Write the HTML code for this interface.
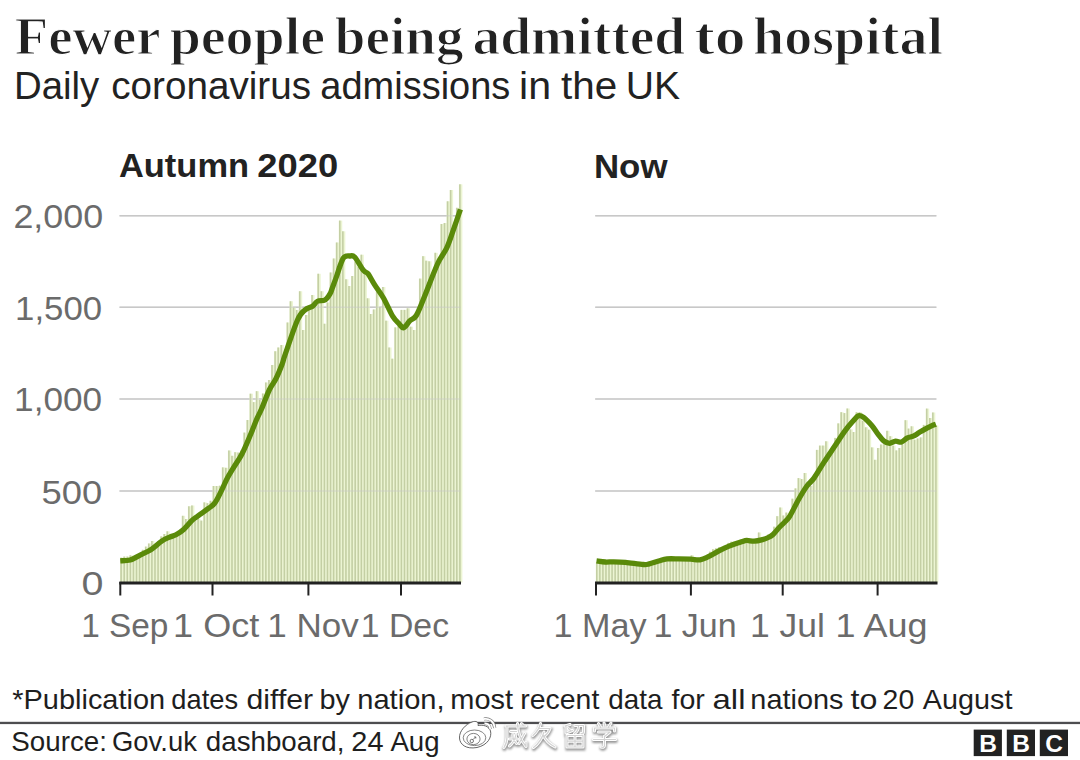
<!DOCTYPE html>
<html><head><meta charset="utf-8"><style>
html,body{margin:0;padding:0;background:#fff;}
svg{display:block;}
text{font-family:"Liberation Sans",sans-serif;}
.title{font-family:"Liberation Serif",serif;font-weight:bold;font-size:53px;fill:#222;stroke:#fff;stroke-width:1.2px;}
.sub{font-size:38px;fill:#222;}
.ptitle{font-size:34px;font-weight:bold;fill:#222;}
.ax{font-size:33px;fill:#6b6b6b;}
.note{font-size:27.6px;fill:#1e1e1e;}
.bar rect{fill:#c4cfa4;}
.band rect{fill:#ecf5d3;}
.grid line{stroke:#c8c8c8;stroke-width:1.6;}
.axis line{stroke:#222;}
.line{fill:none;stroke:#5a8a0a;stroke-width:5.30;stroke-linejoin:round;stroke-linecap:butt;}
.bbc rect{fill:#222;}
.bbc text{font-size:24.5px;font-weight:bold;fill:#fff;text-anchor:middle;}
</style></head><body>
<svg width="1080" height="760" viewBox="0 0 1080 760">
<rect width="1080" height="760" fill="#fff"/>
<g class="grid"><line x1="119.5" x2="460.5" y1="215.75" y2="215.75"/><line x1="119.5" x2="460.5" y1="307.25" y2="307.25"/><line x1="119.5" x2="460.5" y1="399.00" y2="399.00"/><line x1="119.5" x2="460.5" y1="491.00" y2="491.00"/><line x1="595.2" x2="936.4" y1="215.75" y2="215.75"/><line x1="595.2" x2="936.4" y1="307.25" y2="307.25"/><line x1="595.2" x2="936.4" y1="399.00" y2="399.00"/><line x1="595.2" x2="936.4" y1="491.00" y2="491.00"/></g>
<g class="band"><rect x="120.10" y="557.70" width="3.48" height="24.80"/><rect x="123.18" y="556.60" width="3.48" height="25.90"/><rect x="126.26" y="556.60" width="3.48" height="25.90"/><rect x="129.34" y="555.30" width="3.48" height="27.20"/><rect x="132.42" y="558.50" width="3.48" height="24.00"/><rect x="135.50" y="556.90" width="3.48" height="25.60"/><rect x="138.58" y="553.70" width="3.48" height="28.80"/><rect x="141.66" y="549.80" width="3.48" height="32.70"/><rect x="144.74" y="546.60" width="3.48" height="35.90"/><rect x="147.82" y="543.50" width="3.48" height="39.00"/><rect x="150.90" y="541.00" width="3.48" height="41.50"/><rect x="153.98" y="545.80" width="3.48" height="36.70"/><rect x="157.06" y="541.00" width="3.48" height="41.50"/><rect x="160.14" y="536.40" width="3.48" height="46.10"/><rect x="163.22" y="534.00" width="3.48" height="48.50"/><rect x="166.30" y="531.30" width="3.48" height="51.20"/><rect x="169.38" y="536.40" width="3.48" height="46.10"/><rect x="172.46" y="536.40" width="3.48" height="46.10"/><rect x="175.54" y="534.80" width="3.48" height="47.70"/><rect x="178.62" y="533.20" width="3.48" height="49.30"/><rect x="181.70" y="515.80" width="3.48" height="66.70"/><rect x="184.78" y="519.00" width="3.48" height="63.50"/><rect x="187.86" y="506.30" width="3.48" height="76.20"/><rect x="190.94" y="505.50" width="3.48" height="77.00"/><rect x="194.02" y="520.60" width="3.48" height="61.90"/><rect x="197.10" y="519.00" width="3.48" height="63.50"/><rect x="200.18" y="520.60" width="3.48" height="61.90"/><rect x="203.26" y="502.40" width="3.48" height="80.10"/><rect x="206.34" y="503.20" width="3.48" height="79.30"/><rect x="209.42" y="500.80" width="3.48" height="81.70"/><rect x="212.50" y="486.00" width="3.48" height="96.50"/><rect x="215.58" y="486.00" width="3.48" height="96.50"/><rect x="218.66" y="485.70" width="3.48" height="96.80"/><rect x="221.74" y="467.40" width="3.48" height="115.10"/><rect x="224.82" y="467.80" width="3.48" height="114.70"/><rect x="227.90" y="450.50" width="3.48" height="132.00"/><rect x="230.98" y="455.80" width="3.48" height="126.70"/><rect x="234.06" y="452.20" width="3.48" height="130.30"/><rect x="237.14" y="452.60" width="3.48" height="129.90"/><rect x="240.22" y="450.50" width="3.48" height="132.00"/><rect x="243.30" y="432.60" width="3.48" height="149.90"/><rect x="246.38" y="420.00" width="3.48" height="162.50"/><rect x="249.46" y="393.70" width="3.48" height="188.80"/><rect x="252.54" y="402.10" width="3.48" height="180.40"/><rect x="255.62" y="391.20" width="3.48" height="191.30"/><rect x="258.70" y="400.00" width="3.48" height="182.50"/><rect x="261.78" y="393.50" width="3.48" height="189.00"/><rect x="264.86" y="382.50" width="3.48" height="200.00"/><rect x="267.94" y="380.00" width="3.48" height="202.50"/><rect x="271.02" y="365.00" width="3.48" height="217.50"/><rect x="274.10" y="351.25" width="3.48" height="231.25"/><rect x="277.18" y="347.50" width="3.48" height="235.00"/><rect x="280.26" y="345.00" width="3.48" height="237.50"/><rect x="283.34" y="355.00" width="3.48" height="227.50"/><rect x="286.42" y="322.50" width="3.48" height="260.00"/><rect x="289.50" y="301.25" width="3.48" height="281.25"/><rect x="292.58" y="307.50" width="3.48" height="275.00"/><rect x="295.66" y="310.00" width="3.48" height="272.50"/><rect x="298.74" y="291.25" width="3.48" height="291.25"/><rect x="301.82" y="330.00" width="3.48" height="252.50"/><rect x="304.90" y="315.00" width="3.48" height="267.50"/><rect x="307.98" y="310.00" width="3.48" height="272.50"/><rect x="311.06" y="295.00" width="3.48" height="287.50"/><rect x="314.14" y="302.50" width="3.48" height="280.00"/><rect x="317.22" y="273.75" width="3.48" height="308.75"/><rect x="320.30" y="291.25" width="3.48" height="291.25"/><rect x="323.38" y="323.75" width="3.48" height="258.75"/><rect x="326.46" y="302.50" width="3.48" height="280.00"/><rect x="329.54" y="272.50" width="3.48" height="310.00"/><rect x="332.62" y="258.50" width="3.48" height="324.00"/><rect x="335.70" y="242.50" width="3.48" height="340.00"/><rect x="338.78" y="220.60" width="3.48" height="361.90"/><rect x="341.86" y="231.30" width="3.48" height="351.20"/><rect x="344.94" y="279.30" width="3.48" height="303.20"/><rect x="348.02" y="286.00" width="3.48" height="296.50"/><rect x="351.10" y="276.00" width="3.48" height="306.50"/><rect x="354.18" y="261.50" width="3.48" height="321.00"/><rect x="357.26" y="267.00" width="3.48" height="315.50"/><rect x="360.34" y="254.70" width="3.48" height="327.80"/><rect x="363.42" y="273.70" width="3.48" height="308.80"/><rect x="366.50" y="298.30" width="3.48" height="284.20"/><rect x="369.58" y="314.00" width="3.48" height="268.50"/><rect x="372.66" y="309.50" width="3.48" height="273.00"/><rect x="375.74" y="291.60" width="3.48" height="290.90"/><rect x="378.82" y="307.00" width="3.48" height="275.50"/><rect x="381.90" y="287.00" width="3.48" height="295.50"/><rect x="384.98" y="320.70" width="3.48" height="261.80"/><rect x="388.06" y="347.50" width="3.48" height="235.00"/><rect x="391.14" y="358.70" width="3.48" height="223.80"/><rect x="394.22" y="327.40" width="3.48" height="255.10"/><rect x="397.30" y="325.00" width="3.48" height="257.50"/><rect x="400.38" y="309.90" width="3.48" height="272.60"/><rect x="403.46" y="309.90" width="3.48" height="272.60"/><rect x="406.54" y="308.30" width="3.48" height="274.20"/><rect x="409.62" y="326.70" width="3.48" height="255.80"/><rect x="412.70" y="330.00" width="3.48" height="252.50"/><rect x="415.78" y="313.00" width="3.48" height="269.50"/><rect x="418.86" y="278.60" width="3.48" height="303.90"/><rect x="421.94" y="256.20" width="3.48" height="326.30"/><rect x="425.02" y="260.70" width="3.48" height="321.80"/><rect x="428.10" y="261.30" width="3.48" height="321.20"/><rect x="431.18" y="277.50" width="3.48" height="305.00"/><rect x="434.26" y="252.80" width="3.48" height="329.70"/><rect x="437.34" y="259.50" width="3.48" height="323.00"/><rect x="440.42" y="224.00" width="3.48" height="358.50"/><rect x="443.50" y="223.00" width="3.48" height="359.50"/><rect x="446.58" y="201.30" width="3.48" height="381.20"/><rect x="449.66" y="190.00" width="3.48" height="392.50"/><rect x="452.74" y="224.00" width="3.48" height="358.50"/><rect x="455.82" y="207.80" width="3.48" height="374.70"/><rect x="458.90" y="184.30" width="3.48" height="398.20"/><rect x="595.80" y="562.34" width="3.46" height="20.16"/><rect x="598.85" y="562.75" width="3.46" height="19.75"/><rect x="601.91" y="563.16" width="3.46" height="19.34"/><rect x="604.96" y="563.49" width="3.46" height="19.01"/><rect x="608.02" y="563.41" width="3.46" height="19.09"/><rect x="611.07" y="563.34" width="3.46" height="19.16"/><rect x="614.13" y="563.37" width="3.46" height="19.13"/><rect x="617.18" y="563.53" width="3.46" height="18.97"/><rect x="620.24" y="563.68" width="3.46" height="18.82"/><rect x="623.29" y="563.84" width="3.46" height="18.66"/><rect x="626.35" y="564.12" width="3.46" height="18.38"/><rect x="629.40" y="564.48" width="3.46" height="18.02"/><rect x="632.46" y="564.84" width="3.46" height="17.66"/><rect x="635.51" y="565.20" width="3.46" height="17.30"/><rect x="638.57" y="565.56" width="3.46" height="16.94"/><rect x="641.62" y="565.92" width="3.46" height="16.58"/><rect x="644.68" y="565.76" width="3.46" height="16.74"/><rect x="647.73" y="565.45" width="3.46" height="17.05"/><rect x="650.79" y="564.61" width="3.46" height="17.89"/><rect x="653.84" y="563.68" width="3.46" height="18.82"/><rect x="656.90" y="562.74" width="3.46" height="19.76"/><rect x="659.95" y="561.93" width="3.46" height="20.57"/><rect x="663.01" y="561.16" width="3.46" height="21.34"/><rect x="666.06" y="560.40" width="3.46" height="22.10"/><rect x="669.12" y="560.40" width="3.46" height="22.10"/><rect x="672.17" y="560.40" width="3.46" height="22.10"/><rect x="675.23" y="560.40" width="3.46" height="22.10"/><rect x="678.28" y="560.41" width="3.46" height="22.09"/><rect x="681.34" y="560.49" width="3.46" height="22.01"/><rect x="684.39" y="560.57" width="3.46" height="21.93"/><rect x="687.45" y="560.64" width="3.46" height="21.86"/><rect x="690.50" y="555.30" width="3.46" height="27.20"/><rect x="693.56" y="560.95" width="3.46" height="21.55"/><rect x="696.62" y="561.15" width="3.46" height="21.35"/><rect x="699.67" y="561.05" width="3.46" height="21.45"/><rect x="702.72" y="559.91" width="3.46" height="22.59"/><rect x="705.78" y="558.77" width="3.46" height="23.73"/><rect x="708.83" y="551.70" width="3.46" height="30.80"/><rect x="711.89" y="549.20" width="3.46" height="33.30"/><rect x="714.94" y="548.30" width="3.46" height="34.20"/><rect x="718.00" y="547.10" width="3.46" height="35.40"/><rect x="721.05" y="550.89" width="3.46" height="31.61"/><rect x="724.11" y="549.36" width="3.46" height="33.14"/><rect x="727.16" y="542.90" width="3.46" height="39.60"/><rect x="730.22" y="541.70" width="3.46" height="40.80"/><rect x="733.27" y="541.70" width="3.46" height="40.80"/><rect x="736.33" y="544.71" width="3.46" height="37.79"/><rect x="739.38" y="539.60" width="3.46" height="42.90"/><rect x="742.44" y="542.75" width="3.46" height="39.75"/><rect x="745.50" y="541.95" width="3.46" height="40.55"/><rect x="748.55" y="542.20" width="3.46" height="40.30"/><rect x="751.61" y="542.53" width="3.46" height="39.97"/><rect x="754.66" y="542.42" width="3.46" height="40.08"/><rect x="757.71" y="532.50" width="3.46" height="50.00"/><rect x="760.77" y="541.24" width="3.46" height="41.26"/><rect x="763.82" y="540.26" width="3.46" height="42.24"/><rect x="766.88" y="534.60" width="3.46" height="47.90"/><rect x="769.93" y="537.26" width="3.46" height="45.24"/><rect x="772.99" y="526.70" width="3.46" height="55.80"/><rect x="776.04" y="516.20" width="3.46" height="66.30"/><rect x="779.10" y="507.50" width="3.46" height="75.00"/><rect x="782.15" y="515.50" width="3.46" height="67.00"/><rect x="785.21" y="512.60" width="3.46" height="69.90"/><rect x="788.26" y="518.17" width="3.46" height="64.33"/><rect x="791.32" y="498.70" width="3.46" height="83.80"/><rect x="794.38" y="488.40" width="3.46" height="94.10"/><rect x="797.43" y="478.10" width="3.46" height="104.40"/><rect x="800.48" y="479.00" width="3.46" height="103.50"/><rect x="803.54" y="473.00" width="3.46" height="109.50"/><rect x="806.60" y="482.40" width="3.46" height="100.10"/><rect x="809.65" y="486.00" width="3.46" height="96.50"/><rect x="812.70" y="479.93" width="3.46" height="102.57"/><rect x="815.76" y="449.90" width="3.46" height="132.60"/><rect x="818.81" y="445.60" width="3.46" height="136.90"/><rect x="821.87" y="445.60" width="3.46" height="136.90"/><rect x="824.92" y="441.30" width="3.46" height="141.20"/><rect x="827.98" y="455.00" width="3.46" height="127.50"/><rect x="831.03" y="450.00" width="3.46" height="132.50"/><rect x="834.09" y="437.90" width="3.46" height="144.60"/><rect x="837.14" y="423.40" width="3.46" height="159.10"/><rect x="840.20" y="412.20" width="3.46" height="170.30"/><rect x="843.25" y="413.10" width="3.46" height="169.40"/><rect x="846.31" y="408.50" width="3.46" height="174.00"/><rect x="849.37" y="429.40" width="3.46" height="153.10"/><rect x="852.42" y="432.00" width="3.46" height="150.50"/><rect x="855.47" y="412.20" width="3.46" height="170.30"/><rect x="858.53" y="412.20" width="3.46" height="170.30"/><rect x="861.59" y="420.80" width="3.46" height="161.70"/><rect x="864.64" y="427.30" width="3.46" height="155.20"/><rect x="867.69" y="429.70" width="3.46" height="152.80"/><rect x="870.75" y="447.40" width="3.46" height="135.10"/><rect x="873.80" y="459.80" width="3.46" height="122.70"/><rect x="876.86" y="448.00" width="3.46" height="134.50"/><rect x="879.91" y="444.50" width="3.46" height="138.00"/><rect x="882.97" y="443.30" width="3.46" height="139.20"/><rect x="886.02" y="430.80" width="3.46" height="151.70"/><rect x="889.08" y="436.20" width="3.46" height="146.30"/><rect x="892.13" y="445.60" width="3.46" height="136.90"/><rect x="895.19" y="450.40" width="3.46" height="132.10"/><rect x="898.24" y="448.00" width="3.46" height="134.50"/><rect x="901.30" y="444.50" width="3.46" height="138.00"/><rect x="904.36" y="420.20" width="3.46" height="162.30"/><rect x="907.41" y="428.60" width="3.46" height="153.90"/><rect x="910.46" y="426.30" width="3.46" height="156.20"/><rect x="913.52" y="439.70" width="3.46" height="142.80"/><rect x="916.58" y="438.50" width="3.46" height="144.00"/><rect x="919.63" y="437.40" width="3.46" height="145.10"/><rect x="922.68" y="424.90" width="3.46" height="157.60"/><rect x="925.74" y="408.60" width="3.46" height="173.90"/><rect x="928.79" y="418.00" width="3.46" height="164.50"/><rect x="931.85" y="412.50" width="3.46" height="170.00"/><rect x="934.90" y="425.50" width="3.46" height="157.00"/></g>
<g class="bar"><rect x="120.30" y="557.70" width="1.60" height="24.80"/><rect x="123.38" y="556.60" width="1.60" height="25.90"/><rect x="126.46" y="556.60" width="1.60" height="25.90"/><rect x="129.54" y="555.30" width="1.60" height="27.20"/><rect x="132.62" y="558.50" width="1.60" height="24.00"/><rect x="135.70" y="556.90" width="1.60" height="25.60"/><rect x="138.78" y="553.70" width="1.60" height="28.80"/><rect x="141.86" y="549.80" width="1.60" height="32.70"/><rect x="144.94" y="546.60" width="1.60" height="35.90"/><rect x="148.02" y="543.50" width="1.60" height="39.00"/><rect x="151.10" y="541.00" width="1.60" height="41.50"/><rect x="154.18" y="545.80" width="1.60" height="36.70"/><rect x="157.26" y="541.00" width="1.60" height="41.50"/><rect x="160.34" y="536.40" width="1.60" height="46.10"/><rect x="163.42" y="534.00" width="1.60" height="48.50"/><rect x="166.50" y="531.30" width="1.60" height="51.20"/><rect x="169.58" y="536.40" width="1.60" height="46.10"/><rect x="172.66" y="536.40" width="1.60" height="46.10"/><rect x="175.74" y="534.80" width="1.60" height="47.70"/><rect x="178.82" y="533.20" width="1.60" height="49.30"/><rect x="181.90" y="515.80" width="1.60" height="66.70"/><rect x="184.98" y="519.00" width="1.60" height="63.50"/><rect x="188.06" y="506.30" width="1.60" height="76.20"/><rect x="191.14" y="505.50" width="1.60" height="77.00"/><rect x="194.22" y="520.60" width="1.60" height="61.90"/><rect x="197.30" y="519.00" width="1.60" height="63.50"/><rect x="200.38" y="520.60" width="1.60" height="61.90"/><rect x="203.46" y="502.40" width="1.60" height="80.10"/><rect x="206.54" y="503.20" width="1.60" height="79.30"/><rect x="209.62" y="500.80" width="1.60" height="81.70"/><rect x="212.70" y="486.00" width="1.60" height="96.50"/><rect x="215.78" y="486.00" width="1.60" height="96.50"/><rect x="218.86" y="485.70" width="1.60" height="96.80"/><rect x="221.94" y="467.40" width="1.60" height="115.10"/><rect x="225.02" y="467.80" width="1.60" height="114.70"/><rect x="228.10" y="450.50" width="1.60" height="132.00"/><rect x="231.18" y="455.80" width="1.60" height="126.70"/><rect x="234.26" y="452.20" width="1.60" height="130.30"/><rect x="237.34" y="452.60" width="1.60" height="129.90"/><rect x="240.42" y="450.50" width="1.60" height="132.00"/><rect x="243.50" y="432.60" width="1.60" height="149.90"/><rect x="246.58" y="420.00" width="1.60" height="162.50"/><rect x="249.66" y="393.70" width="1.60" height="188.80"/><rect x="252.74" y="402.10" width="1.60" height="180.40"/><rect x="255.82" y="391.20" width="1.60" height="191.30"/><rect x="258.90" y="400.00" width="1.60" height="182.50"/><rect x="261.98" y="393.50" width="1.60" height="189.00"/><rect x="265.06" y="382.50" width="1.60" height="200.00"/><rect x="268.14" y="380.00" width="1.60" height="202.50"/><rect x="271.22" y="365.00" width="1.60" height="217.50"/><rect x="274.30" y="351.25" width="1.60" height="231.25"/><rect x="277.38" y="347.50" width="1.60" height="235.00"/><rect x="280.46" y="345.00" width="1.60" height="237.50"/><rect x="283.54" y="355.00" width="1.60" height="227.50"/><rect x="286.62" y="322.50" width="1.60" height="260.00"/><rect x="289.70" y="301.25" width="1.60" height="281.25"/><rect x="292.78" y="307.50" width="1.60" height="275.00"/><rect x="295.86" y="310.00" width="1.60" height="272.50"/><rect x="298.94" y="291.25" width="1.60" height="291.25"/><rect x="302.02" y="330.00" width="1.60" height="252.50"/><rect x="305.10" y="315.00" width="1.60" height="267.50"/><rect x="308.18" y="310.00" width="1.60" height="272.50"/><rect x="311.26" y="295.00" width="1.60" height="287.50"/><rect x="314.34" y="302.50" width="1.60" height="280.00"/><rect x="317.42" y="273.75" width="1.60" height="308.75"/><rect x="320.50" y="291.25" width="1.60" height="291.25"/><rect x="323.58" y="323.75" width="1.60" height="258.75"/><rect x="326.66" y="302.50" width="1.60" height="280.00"/><rect x="329.74" y="272.50" width="1.60" height="310.00"/><rect x="332.82" y="258.50" width="1.60" height="324.00"/><rect x="335.90" y="242.50" width="1.60" height="340.00"/><rect x="338.98" y="220.60" width="1.60" height="361.90"/><rect x="342.06" y="231.30" width="1.60" height="351.20"/><rect x="345.14" y="279.30" width="1.60" height="303.20"/><rect x="348.22" y="286.00" width="1.60" height="296.50"/><rect x="351.30" y="276.00" width="1.60" height="306.50"/><rect x="354.38" y="261.50" width="1.60" height="321.00"/><rect x="357.46" y="267.00" width="1.60" height="315.50"/><rect x="360.54" y="254.70" width="1.60" height="327.80"/><rect x="363.62" y="273.70" width="1.60" height="308.80"/><rect x="366.70" y="298.30" width="1.60" height="284.20"/><rect x="369.78" y="314.00" width="1.60" height="268.50"/><rect x="372.86" y="309.50" width="1.60" height="273.00"/><rect x="375.94" y="291.60" width="1.60" height="290.90"/><rect x="379.02" y="307.00" width="1.60" height="275.50"/><rect x="382.10" y="287.00" width="1.60" height="295.50"/><rect x="385.18" y="320.70" width="1.60" height="261.80"/><rect x="388.26" y="347.50" width="1.60" height="235.00"/><rect x="391.34" y="358.70" width="1.60" height="223.80"/><rect x="394.42" y="327.40" width="1.60" height="255.10"/><rect x="397.50" y="325.00" width="1.60" height="257.50"/><rect x="400.58" y="309.90" width="1.60" height="272.60"/><rect x="403.66" y="309.90" width="1.60" height="272.60"/><rect x="406.74" y="308.30" width="1.60" height="274.20"/><rect x="409.82" y="326.70" width="1.60" height="255.80"/><rect x="412.90" y="330.00" width="1.60" height="252.50"/><rect x="415.98" y="313.00" width="1.60" height="269.50"/><rect x="419.06" y="278.60" width="1.60" height="303.90"/><rect x="422.14" y="256.20" width="1.60" height="326.30"/><rect x="425.22" y="260.70" width="1.60" height="321.80"/><rect x="428.30" y="261.30" width="1.60" height="321.20"/><rect x="431.38" y="277.50" width="1.60" height="305.00"/><rect x="434.46" y="252.80" width="1.60" height="329.70"/><rect x="437.54" y="259.50" width="1.60" height="323.00"/><rect x="440.62" y="224.00" width="1.60" height="358.50"/><rect x="443.70" y="223.00" width="1.60" height="359.50"/><rect x="446.78" y="201.30" width="1.60" height="381.20"/><rect x="449.86" y="190.00" width="1.60" height="392.50"/><rect x="452.94" y="224.00" width="1.60" height="358.50"/><rect x="456.02" y="207.80" width="1.60" height="374.70"/><rect x="459.10" y="184.30" width="1.60" height="398.20"/><rect x="596.00" y="562.34" width="1.60" height="20.16"/><rect x="599.05" y="562.75" width="1.60" height="19.75"/><rect x="602.11" y="563.16" width="1.60" height="19.34"/><rect x="605.16" y="563.49" width="1.60" height="19.01"/><rect x="608.22" y="563.41" width="1.60" height="19.09"/><rect x="611.27" y="563.34" width="1.60" height="19.16"/><rect x="614.33" y="563.37" width="1.60" height="19.13"/><rect x="617.38" y="563.53" width="1.60" height="18.97"/><rect x="620.44" y="563.68" width="1.60" height="18.82"/><rect x="623.50" y="563.84" width="1.60" height="18.66"/><rect x="626.55" y="564.12" width="1.60" height="18.38"/><rect x="629.61" y="564.48" width="1.60" height="18.02"/><rect x="632.66" y="564.84" width="1.60" height="17.66"/><rect x="635.72" y="565.20" width="1.60" height="17.30"/><rect x="638.77" y="565.56" width="1.60" height="16.94"/><rect x="641.83" y="565.92" width="1.60" height="16.58"/><rect x="644.88" y="565.76" width="1.60" height="16.74"/><rect x="647.93" y="565.45" width="1.60" height="17.05"/><rect x="650.99" y="564.61" width="1.60" height="17.89"/><rect x="654.04" y="563.68" width="1.60" height="18.82"/><rect x="657.10" y="562.74" width="1.60" height="19.76"/><rect x="660.15" y="561.93" width="1.60" height="20.57"/><rect x="663.21" y="561.16" width="1.60" height="21.34"/><rect x="666.26" y="560.40" width="1.60" height="22.10"/><rect x="669.32" y="560.40" width="1.60" height="22.10"/><rect x="672.38" y="560.40" width="1.60" height="22.10"/><rect x="675.43" y="560.40" width="1.60" height="22.10"/><rect x="678.49" y="560.41" width="1.60" height="22.09"/><rect x="681.54" y="560.49" width="1.60" height="22.01"/><rect x="684.60" y="560.57" width="1.60" height="21.93"/><rect x="687.65" y="560.64" width="1.60" height="21.86"/><rect x="690.71" y="555.30" width="1.60" height="27.20"/><rect x="693.76" y="560.95" width="1.60" height="21.55"/><rect x="696.82" y="561.15" width="1.60" height="21.35"/><rect x="699.87" y="561.05" width="1.60" height="21.45"/><rect x="702.92" y="559.91" width="1.60" height="22.59"/><rect x="705.98" y="558.77" width="1.60" height="23.73"/><rect x="709.03" y="551.70" width="1.60" height="30.80"/><rect x="712.09" y="549.20" width="1.60" height="33.30"/><rect x="715.14" y="548.30" width="1.60" height="34.20"/><rect x="718.20" y="547.10" width="1.60" height="35.40"/><rect x="721.25" y="550.89" width="1.60" height="31.61"/><rect x="724.31" y="549.36" width="1.60" height="33.14"/><rect x="727.37" y="542.90" width="1.60" height="39.60"/><rect x="730.42" y="541.70" width="1.60" height="40.80"/><rect x="733.48" y="541.70" width="1.60" height="40.80"/><rect x="736.53" y="544.71" width="1.60" height="37.79"/><rect x="739.59" y="539.60" width="1.60" height="42.90"/><rect x="742.64" y="542.75" width="1.60" height="39.75"/><rect x="745.70" y="541.95" width="1.60" height="40.55"/><rect x="748.75" y="542.20" width="1.60" height="40.30"/><rect x="751.81" y="542.53" width="1.60" height="39.97"/><rect x="754.86" y="542.42" width="1.60" height="40.08"/><rect x="757.91" y="532.50" width="1.60" height="50.00"/><rect x="760.97" y="541.24" width="1.60" height="41.26"/><rect x="764.02" y="540.26" width="1.60" height="42.24"/><rect x="767.08" y="534.60" width="1.60" height="47.90"/><rect x="770.13" y="537.26" width="1.60" height="45.24"/><rect x="773.19" y="526.70" width="1.60" height="55.80"/><rect x="776.25" y="516.20" width="1.60" height="66.30"/><rect x="779.30" y="507.50" width="1.60" height="75.00"/><rect x="782.36" y="515.50" width="1.60" height="67.00"/><rect x="785.41" y="512.60" width="1.60" height="69.90"/><rect x="788.47" y="518.17" width="1.60" height="64.33"/><rect x="791.52" y="498.70" width="1.60" height="83.80"/><rect x="794.58" y="488.40" width="1.60" height="94.10"/><rect x="797.63" y="478.10" width="1.60" height="104.40"/><rect x="800.68" y="479.00" width="1.60" height="103.50"/><rect x="803.74" y="473.00" width="1.60" height="109.50"/><rect x="806.80" y="482.40" width="1.60" height="100.10"/><rect x="809.85" y="486.00" width="1.60" height="96.50"/><rect x="812.90" y="479.93" width="1.60" height="102.57"/><rect x="815.96" y="449.90" width="1.60" height="132.60"/><rect x="819.01" y="445.60" width="1.60" height="136.90"/><rect x="822.07" y="445.60" width="1.60" height="136.90"/><rect x="825.12" y="441.30" width="1.60" height="141.20"/><rect x="828.18" y="455.00" width="1.60" height="127.50"/><rect x="831.24" y="450.00" width="1.60" height="132.50"/><rect x="834.29" y="437.90" width="1.60" height="144.60"/><rect x="837.35" y="423.40" width="1.60" height="159.10"/><rect x="840.40" y="412.20" width="1.60" height="170.30"/><rect x="843.46" y="413.10" width="1.60" height="169.40"/><rect x="846.51" y="408.50" width="1.60" height="174.00"/><rect x="849.57" y="429.40" width="1.60" height="153.10"/><rect x="852.62" y="432.00" width="1.60" height="150.50"/><rect x="855.67" y="412.20" width="1.60" height="170.30"/><rect x="858.73" y="412.20" width="1.60" height="170.30"/><rect x="861.79" y="420.80" width="1.60" height="161.70"/><rect x="864.84" y="427.30" width="1.60" height="155.20"/><rect x="867.89" y="429.70" width="1.60" height="152.80"/><rect x="870.95" y="447.40" width="1.60" height="135.10"/><rect x="874.00" y="459.80" width="1.60" height="122.70"/><rect x="877.06" y="448.00" width="1.60" height="134.50"/><rect x="880.12" y="444.50" width="1.60" height="138.00"/><rect x="883.17" y="443.30" width="1.60" height="139.20"/><rect x="886.23" y="430.80" width="1.60" height="151.70"/><rect x="889.28" y="436.20" width="1.60" height="146.30"/><rect x="892.34" y="445.60" width="1.60" height="136.90"/><rect x="895.39" y="450.40" width="1.60" height="132.10"/><rect x="898.44" y="448.00" width="1.60" height="134.50"/><rect x="901.50" y="444.50" width="1.60" height="138.00"/><rect x="904.56" y="420.20" width="1.60" height="162.30"/><rect x="907.61" y="428.60" width="1.60" height="153.90"/><rect x="910.66" y="426.30" width="1.60" height="156.20"/><rect x="913.72" y="439.70" width="1.60" height="142.80"/><rect x="916.78" y="438.50" width="1.60" height="144.00"/><rect x="919.83" y="437.40" width="1.60" height="145.10"/><rect x="922.88" y="424.90" width="1.60" height="157.60"/><rect x="925.94" y="408.60" width="1.60" height="173.90"/><rect x="929.00" y="418.00" width="1.60" height="164.50"/><rect x="932.05" y="412.50" width="1.60" height="170.00"/><rect x="935.11" y="425.50" width="1.60" height="157.00"/></g>
<g class="grid" opacity="0.45"><line x1="119.5" x2="460.5" y1="215.75" y2="215.75"/><line x1="119.5" x2="460.5" y1="307.25" y2="307.25"/><line x1="119.5" x2="460.5" y1="399.00" y2="399.00"/><line x1="119.5" x2="460.5" y1="491.00" y2="491.00"/><line x1="595.2" x2="936.4" y1="215.75" y2="215.75"/><line x1="595.2" x2="936.4" y1="307.25" y2="307.25"/><line x1="595.2" x2="936.4" y1="399.00" y2="399.00"/><line x1="595.2" x2="936.4" y1="491.00" y2="491.00"/></g>
<path class="line" d="M120.30 560.80 C121.95 560.67 126.97 560.92 130.20 560.00 C133.43 559.08 136.27 557.00 139.70 555.30 C143.13 553.60 147.12 552.17 150.80 549.80 C154.48 547.43 158.65 543.22 161.80 541.10 C164.95 538.98 167.33 538.15 169.70 537.10 C172.07 536.05 173.63 536.12 176.00 534.80 C178.37 533.48 181.27 531.57 183.90 529.20 C186.53 526.83 189.43 522.83 191.80 520.60 C194.17 518.37 195.33 517.83 198.10 515.80 C200.87 513.77 205.63 510.50 208.40 508.40 C211.17 506.30 212.60 506.00 214.70 503.20 C216.80 500.40 218.88 495.82 221.00 491.60 C223.12 487.38 225.28 481.93 227.40 477.90 C229.52 473.87 231.25 471.43 233.70 467.40 C236.15 463.37 239.30 459.15 242.10 453.70 C244.90 448.25 248.05 440.48 250.50 434.70 C252.95 428.92 254.97 423.28 256.80 419.00 C258.63 414.72 259.38 413.92 261.50 409.00 C263.62 404.08 267.12 394.50 269.50 389.50 C271.88 384.50 273.70 383.22 275.80 379.00 C277.90 374.78 280.57 368.20 282.10 364.20 C283.63 360.20 282.43 362.37 285.00 355.00 C287.57 347.63 294.17 327.50 297.50 320.00 C300.83 312.50 302.50 312.29 305.00 310.00 C307.50 307.71 310.42 307.71 312.50 306.25 C314.58 304.79 315.42 302.29 317.50 301.25 C319.58 300.21 322.92 301.23 325.00 300.00 C327.08 298.77 328.75 295.98 330.00 293.90 C331.25 291.82 331.38 290.48 332.50 287.50 C333.62 284.52 335.45 279.58 336.70 276.00 C337.95 272.42 338.88 268.98 340.00 266.00 C341.12 263.02 342.27 259.77 343.40 258.10 C344.53 256.43 345.78 256.35 346.80 256.00 C347.82 255.65 348.20 255.83 349.50 256.00 C350.80 256.17 352.27 254.60 354.60 257.00 C356.93 259.40 361.27 267.62 363.50 270.40 C365.73 273.18 366.13 271.28 368.00 273.70 C369.87 276.12 372.10 280.80 374.70 284.90 C377.30 289.00 380.62 293.08 383.60 298.30 C386.58 303.52 389.98 311.92 392.60 316.20 C395.22 320.48 397.45 322.07 399.30 324.00 C401.15 325.93 401.92 328.35 403.70 327.80 C405.48 327.25 407.90 322.75 410.00 320.70 C412.10 318.65 413.95 319.35 416.30 315.50 C418.65 311.65 420.57 306.18 424.10 297.60 C427.63 289.02 433.77 272.20 437.50 264.00 C441.23 255.80 443.88 254.00 446.50 248.40 C449.12 242.80 450.88 236.90 453.20 230.40 C455.52 223.90 459.20 212.90 460.40 209.40"/>
<path class="line" d="M596.50 560.80 C597.98 561.00 602.53 561.83 605.40 562.00 C608.27 562.17 610.35 561.73 613.70 561.80 C617.05 561.87 620.57 561.95 625.50 562.40 C630.43 562.85 639.35 564.25 643.30 564.50 C647.25 564.75 646.63 564.48 649.20 563.90 C651.77 563.32 655.73 561.83 658.70 561.00 C661.67 560.17 663.65 559.25 667.00 558.90 C670.35 558.55 674.85 558.85 678.80 558.90 C682.75 558.95 687.17 559.05 690.70 559.20 C694.23 559.35 697.07 560.22 700.00 559.80 C702.93 559.38 705.52 557.98 708.30 556.70 C711.08 555.42 713.92 553.57 716.70 552.10 C719.48 550.63 722.23 549.15 725.00 547.90 C727.77 546.65 730.52 545.63 733.30 544.60 C736.08 543.57 739.47 542.40 741.70 541.70 C743.93 541.00 744.62 540.48 746.70 540.40 C748.78 540.32 751.57 541.33 754.20 541.20 C756.83 541.07 760.15 540.22 762.50 539.60 C764.85 538.98 766.50 538.40 768.30 537.50 C770.10 536.60 771.48 535.87 773.30 534.20 C775.12 532.53 777.25 529.58 779.20 527.50 C781.15 525.42 783.20 523.65 785.00 521.70 C786.80 519.75 787.73 519.50 790.00 515.80 C792.27 512.10 795.75 504.50 798.60 499.50 C801.45 494.50 804.53 489.37 807.10 485.80 C809.67 482.23 811.15 482.08 814.00 478.10 C816.85 474.12 820.78 467.17 824.20 461.90 C827.62 456.63 831.07 451.63 834.50 446.50 C837.93 441.37 841.67 435.38 844.80 431.10 C847.93 426.82 851.03 423.37 853.30 420.80 C855.57 418.23 856.68 416.27 858.40 415.70 C860.12 415.13 861.37 415.77 863.60 417.40 C865.83 419.03 869.43 422.77 871.80 425.50 C874.17 428.23 875.82 431.23 877.80 433.80 C879.78 436.37 881.73 439.32 883.70 440.90 C885.67 442.48 887.63 443.27 889.60 443.30 C891.57 443.33 893.53 441.30 895.50 441.10 C897.47 440.90 899.42 442.63 901.40 442.10 C903.38 441.57 905.42 438.88 907.40 437.90 C909.38 436.92 911.33 437.08 913.30 436.20 C915.27 435.32 917.23 433.78 919.20 432.60 C921.17 431.42 923.13 430.18 925.10 429.10 C927.07 428.02 929.20 426.90 931.00 426.10 C932.80 425.30 935.08 424.60 935.90 424.30"/>
<g class="axis">
<line x1="119.3" x2="461" y1="583" y2="583" style="stroke-width:3"/>
<line x1="595" x2="937.5" y1="583" y2="583" style="stroke-width:3"/>
</g>
<g class="axis" style="stroke-width:2"><line x1="120.3" x2="120.3" y1="582" y2="595.5"/><line x1="212.5" x2="212.5" y1="582" y2="595.5"/><line x1="308.4" x2="308.4" y1="582" y2="595.5"/><line x1="401.0" x2="401.0" y1="582" y2="595.5"/><line x1="596.0" x2="596.0" y1="582" y2="595.5"/><line x1="690.9" x2="690.9" y1="582" y2="595.5"/><line x1="782.7" x2="782.7" y1="582" y2="595.5"/><line x1="877.6" x2="877.6" y1="582" y2="595.5"/></g>
<text id="t1" class="title" x="14.83" y="53.80" textLength="145.64" lengthAdjust="spacingAndGlyphs">Fewer</text>
<text id="t2" class="title" x="169.66" y="53.80" textLength="155.39" lengthAdjust="spacingAndGlyphs">people</text>
<text id="t3" class="title" x="334.86" y="53.80" textLength="128.58" lengthAdjust="spacingAndGlyphs">being</text>
<text id="t4" class="title" x="472.45" y="53.80" textLength="212.68" lengthAdjust="spacingAndGlyphs">admitted</text>
<text id="t5" class="title" x="694.29" y="53.80" textLength="51.41" lengthAdjust="spacingAndGlyphs">to</text>
<text id="t6" class="title" x="753.14" y="53.80" textLength="189.91" lengthAdjust="spacingAndGlyphs">hospital</text>
<text id="s1" class="sub" x="13.97" y="98.60" textLength="85.33" lengthAdjust="spacingAndGlyphs">Daily</text>
<text id="s2" class="sub" x="111.27" y="98.60" textLength="199.74" lengthAdjust="spacingAndGlyphs">coronavirus</text>
<text id="s3" class="sub" x="320.36" y="98.60" textLength="189.96" lengthAdjust="spacingAndGlyphs">admissions</text>
<text id="s4" class="sub" x="519.12" y="98.60" textLength="32.02" lengthAdjust="spacingAndGlyphs">in</text>
<text id="s5" class="sub" x="561.07" y="98.60" textLength="56.19" lengthAdjust="spacingAndGlyphs">the</text>
<text id="s6" class="sub" x="625.74" y="98.60" textLength="54.35" lengthAdjust="spacingAndGlyphs">UK</text>
<text id="autumn" class="ptitle" x="118.98" y="176.70" textLength="130.07" lengthAdjust="spacingAndGlyphs">Autumn</text>
<text id="a2020" class="ptitle" x="257.37" y="176.70" textLength="80.88" lengthAdjust="spacingAndGlyphs">2020</text>
<text id="now" class="ptitle" x="593.94" y="177.50" textLength="73.55" lengthAdjust="spacingAndGlyphs">Now</text>
<text id="y2000" class="ax" x="13.42" y="228.30" textLength="89.75" lengthAdjust="spacingAndGlyphs">2,000</text>
<text id="y1500" class="ax" x="15.10" y="319.80" textLength="87.05" lengthAdjust="spacingAndGlyphs">1,500</text>
<text id="y1000" class="ax" x="14.09" y="411.40" textLength="88.08" lengthAdjust="spacingAndGlyphs">1,000</text>
<text id="y500" class="ax" x="41.47" y="503.60" textLength="60.71" lengthAdjust="spacingAndGlyphs">500</text>
<text id="y0" class="ax" x="81.47" y="595.20" textLength="21.95" lengthAdjust="spacingAndGlyphs">0</text>
<text id="xsep" class="ax" x="81.15" y="637.40" textLength="87.32" lengthAdjust="spacingAndGlyphs">1 Sep</text>
<text id="xoct" class="ax" x="173.11" y="637.40" textLength="86.20" lengthAdjust="spacingAndGlyphs">1 Oct</text>
<text id="xnov" class="ax" x="267.28" y="637.40" textLength="91.42" lengthAdjust="spacingAndGlyphs">1 Nov</text>
<text id="xdec" class="ax" x="360.79" y="637.40" textLength="88.26" lengthAdjust="spacingAndGlyphs">1 Dec</text>
<text id="xmay" class="ax" x="553.62" y="637.40" textLength="92.91" lengthAdjust="spacingAndGlyphs">1 May</text>
<text id="xjun" class="ax" x="653.53" y="637.40" textLength="83.17" lengthAdjust="spacingAndGlyphs">1 Jun</text>
<text id="xjul" class="ax" x="750.02" y="637.40" textLength="74.96" lengthAdjust="spacingAndGlyphs">1 Jul</text>
<text id="xaug" class="ax" x="835.54" y="637.40" textLength="91.99" lengthAdjust="spacingAndGlyphs">1 Aug</text>
<text id="n1" class="note" x="12.28" y="709.10" textLength="152.84" lengthAdjust="spacingAndGlyphs">*Publication</text>
<text id="n2" class="note" x="171.37" y="709.10" textLength="66.75" lengthAdjust="spacingAndGlyphs">dates</text>
<text id="n3" class="note" x="246.57" y="709.10" textLength="66.55" lengthAdjust="spacingAndGlyphs">differ</text>
<text id="n4" class="note" x="319.60" y="709.10" textLength="30.40" lengthAdjust="spacingAndGlyphs">by</text>
<text id="n5" class="note" x="357.20" y="709.10" textLength="87.42" lengthAdjust="spacingAndGlyphs">nation,</text>
<text id="n6" class="note" x="450.34" y="709.10" textLength="62.78" lengthAdjust="spacingAndGlyphs">most</text>
<text id="n7" class="note" x="520.34" y="709.10" textLength="78.96" lengthAdjust="spacingAndGlyphs">recent</text>
<text id="n8" class="note" x="608.27" y="709.10" textLength="54.13" lengthAdjust="spacingAndGlyphs">data</text>
<text id="n9" class="note" x="671.47" y="709.10" textLength="33.35" lengthAdjust="spacingAndGlyphs">for</text>
<text id="n10" class="note" x="712.54" y="709.10" textLength="32.91" lengthAdjust="spacingAndGlyphs">all</text>
<text id="n11" class="note" x="750.33" y="709.10" textLength="93.11" lengthAdjust="spacingAndGlyphs">nations</text>
<text id="n12" class="note" x="850.45" y="709.10" textLength="26.87" lengthAdjust="spacingAndGlyphs">to</text>
<text id="n13" class="note" x="882.63" y="709.10" textLength="31.61" lengthAdjust="spacingAndGlyphs">20</text>
<text id="n14" class="note" x="922.89" y="709.10" textLength="89.52" lengthAdjust="spacingAndGlyphs">August</text>
<text id="r1" class="note" x="11.25" y="751.10" textLength="95.67" lengthAdjust="spacingAndGlyphs">Source:</text>
<text id="r2" class="note" x="112.06" y="751.10" textLength="84.83" lengthAdjust="spacingAndGlyphs">Gov.uk</text>
<text id="r3" class="note" x="205.87" y="751.10" textLength="138.59" lengthAdjust="spacingAndGlyphs">dashboard,</text>
<text id="r4" class="note" x="351.27" y="751.10" textLength="32.27" lengthAdjust="spacingAndGlyphs">24</text>
<text id="r5" class="note" x="390.46" y="751.10" textLength="49.11" lengthAdjust="spacingAndGlyphs">Aug</text>
<rect x="0" y="721.8" width="1080" height="2.3" fill="#4d4d50"/>
<defs><filter id="wmb" x="-10%" y="-10%" width="120%" height="140%"><feGaussianBlur stdDeviation="1.1"/></filter></defs><g fill="none" stroke="#8c8c8c" stroke-width="4" stroke-linecap="round" opacity="0.9" filter="url(#wmb)" transform="translate(0.4 1.4)"><path transform="translate(502.5 722.0)" d="M3.5 4 H23 M4.5 4 V15 Q4.5 21 1.5 25.5 M8 9.5 H14 M10.5 11.5 Q9.5 17 14 21.5 M13.5 12.5 Q12 20 7 24 M7 17 H15.5 M15 1.5 Q15.5 15 23.5 24.5 M23.5 24.5 V20 M22 11.5 L16.5 21.5 M19 1.5 L21.5 4"/><path transform="translate(531.0 722.0)" d="M9.5 1.5 Q8 8 2 13.5 M7.5 6.5 H19 Q17 12 12.5 15 M13 10 Q10 20 2.5 25.5 M12.5 13.5 Q16 21 24 25"/><path transform="translate(562.0 722.0)" d="M3 4 L8 2.5 M4 4 V11 L10.5 8.5 M6.5 6.5 L8.5 8.5 M13 3.5 H21.5 V10 Q21.5 12 19 11.5 M16.5 4 Q16.5 9 12.5 11.5 M5 13.5 H21 V25 H5 Z M13 13.5 V25 M5 19.2 H21"/><path transform="translate(591.5 722.0)" d="M7 1.5 L9 5 M12.5 1 L13.5 4.5 M19.5 1 L17 5 M3 9 V6 H23 V9 M7 10 H18.5 L13 14.5 M13 14 V23.5 Q13 26 9.5 25 M2 17.5 H24"/></g><g fill="none" stroke="#fff" stroke-width="3" stroke-linecap="round" stroke-linejoin="round"><path transform="translate(502.5 722.0)" d="M3.5 4 H23 M4.5 4 V15 Q4.5 21 1.5 25.5 M8 9.5 H14 M10.5 11.5 Q9.5 17 14 21.5 M13.5 12.5 Q12 20 7 24 M7 17 H15.5 M15 1.5 Q15.5 15 23.5 24.5 M23.5 24.5 V20 M22 11.5 L16.5 21.5 M19 1.5 L21.5 4"/><path transform="translate(531.0 722.0)" d="M9.5 1.5 Q8 8 2 13.5 M7.5 6.5 H19 Q17 12 12.5 15 M13 10 Q10 20 2.5 25.5 M12.5 13.5 Q16 21 24 25"/><path transform="translate(562.0 722.0)" d="M3 4 L8 2.5 M4 4 V11 L10.5 8.5 M6.5 6.5 L8.5 8.5 M13 3.5 H21.5 V10 Q21.5 12 19 11.5 M16.5 4 Q16.5 9 12.5 11.5 M5 13.5 H21 V25 H5 Z M13 13.5 V25 M5 19.2 H21"/><path transform="translate(591.5 722.0)" d="M7 1.5 L9 5 M12.5 1 L13.5 4.5 M19.5 1 L17 5 M3 9 V6 H23 V9 M7 10 H18.5 L13 14.5 M13 14 V23.5 Q13 26 9.5 25 M2 17.5 H24"/></g><g fill="none" stroke="#d2d2d2" stroke-width="1.2" stroke-linecap="round" stroke-linejoin="round"><path transform="translate(502.5 722.0)" d="M3.5 4 H23 M4.5 4 V15 Q4.5 21 1.5 25.5 M8 9.5 H14 M10.5 11.5 Q9.5 17 14 21.5 M13.5 12.5 Q12 20 7 24 M7 17 H15.5 M15 1.5 Q15.5 15 23.5 24.5 M23.5 24.5 V20 M22 11.5 L16.5 21.5 M19 1.5 L21.5 4"/><path transform="translate(531.0 722.0)" d="M9.5 1.5 Q8 8 2 13.5 M7.5 6.5 H19 Q17 12 12.5 15 M13 10 Q10 20 2.5 25.5 M12.5 13.5 Q16 21 24 25"/><path transform="translate(562.0 722.0)" d="M3 4 L8 2.5 M4 4 V11 L10.5 8.5 M6.5 6.5 L8.5 8.5 M13 3.5 H21.5 V10 Q21.5 12 19 11.5 M16.5 4 Q16.5 9 12.5 11.5 M5 13.5 H21 V25 H5 Z M13 13.5 V25 M5 19.2 H21"/><path transform="translate(591.5 722.0)" d="M7 1.5 L9 5 M12.5 1 L13.5 4.5 M19.5 1 L17 5 M3 9 V6 H23 V9 M7 10 H18.5 L13 14.5 M13 14 V23.5 Q13 26 9.5 25 M2 17.5 H24"/></g><g>
<path d="M459.5 738 C459 731 466 724 472 722 C476 720.5 479 722 478 725.5 C483 724.5 489 726 490.5 731 C492 737 488 745 477 747.5 C466 749.5 459.8 744.5 459.5 738 Z" fill="#fff" stroke="#555" stroke-width="0.9"/>
<ellipse cx="474.5" cy="737.8" rx="11.3" ry="7.8" fill="none" stroke="#666" stroke-width="0.8"/>
<ellipse cx="473.5" cy="739" rx="6.6" ry="5.6" fill="none" stroke="#666" stroke-width="0.8"/>
<circle cx="471.8" cy="741" r="1.7" fill="none" stroke="#555" stroke-width="0.8"/><path d="M473 739.6 L475.6 737 M474.2 736.9 H475.8 V738.5" fill="none" stroke="#555" stroke-width="0.8"/>
<path d="M484 719 C489 718 494 721 494.8 728 M484.5 723.5 C487.5 723.5 490 725.5 490.2 729" fill="none" stroke="#777" stroke-width="3"/>
<path d="M484 719 C489 718 494 721 494.8 728 M484.5 723.5 C487.5 723.5 490 725.5 490.2 729" fill="none" stroke="#fff" stroke-width="1.8"/>
</g>
<g class="bbc">
<rect x="973.7" y="729.6" width="28.2" height="26.5"/>
<rect x="1006.8" y="729.6" width="28.2" height="26.5"/>
<rect x="1039.8" y="729.6" width="28.2" height="26.5"/>
<text x="988" y="752.2">B</text><text x="1021.1" y="752.2">B</text><text x="1054.1" y="752.2">C</text>
</g>
</svg>
</body></html>
